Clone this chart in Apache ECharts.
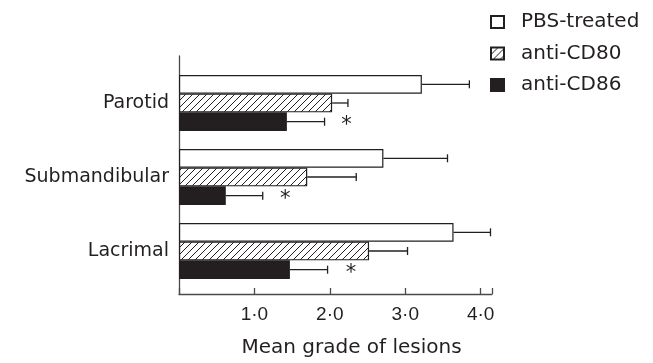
<!DOCTYPE html>
<html>
<head>
<meta charset="utf-8">
<script src="https://cdn.jsdelivr.net/npm/echarts@6/dist/echarts.min.js"></script>
<style>
  html, body { margin: 0; padding: 0; background: #fff; }
  #chart { width: 653px; height: 363px; }
</style>
</head>
<body>
<div id="chart"></div>
<script>
// data
const categories = ['Parotid', 'Submandibular', 'Lacrimal'];
const seriesNames = ['PBS-treated', 'anti-CD80', 'anti-CD86'];
const pbsMean = [3.22, 2.71, 3.64];
const pbsErr = [3.85, 3.56, 4.13];
const cd80Mean = [2.03, 1.70, 2.52];
const cd80Err = [2.24, 2.35, 3.03];
const cd86Mean = [1.43, 0.62, 1.47];
const cd86Err = [1.93, 1.11, 1.97];
const starPos = [2.22, 1.41, 2.28];   // asterisks beside anti-CD86 bars
const tickLabels = { 1: '1·0', 2: '2·0', 3: '3·0', 4: '4·0' };

const INK = '#231f20';
const AXIS = '#4a4a4a';
const BAR_W = 18.7;
const FONT = '"DejaVu Sans", sans-serif';
const TICK_FONT = '"Liberation Sans", Arial, sans-serif';

// diagonal hatch for anti-CD80
const hatch = (() => {
  const c = document.createElement('canvas');
  const s = 7;
  c.width = s; c.height = s;
  const ctx = c.getContext('2d');
  ctx.fillStyle = '#fff';
  ctx.fillRect(0, 0, s, s);
  ctx.strokeStyle = INK;
  ctx.lineWidth = 1;
  ctx.beginPath();
  ctx.moveTo(-1, s + 1); ctx.lineTo(s + 1, -1);
  ctx.moveTo(-1, 1); ctx.lineTo(1, -1);
  ctx.moveTo(s - 1, s + 1); ctx.lineTo(s + 1, s - 1);
  ctx.stroke();
  return c;
})();

const means = [pbsMean, cd80Mean, cd86Mean];
const errs = [pbsErr, cd80Err, cd86Err];
const fills = [
  '#fff',
  { image: hatch, repeat: 'repeat' },
  INK
];

const errData = [];
errs.forEach((arr, g) => arr.forEach((e, i) => errData.push([i, g, means[g][i], e])));

const chart = echarts.init(document.getElementById('chart'), null, { renderer: 'canvas' });

const option = {
  animation: false,
  textStyle: { fontFamily: FONT, color: INK },
  legend: {
    orient: 'vertical',
    left: 490,
    top: 12,
    padding: 0,
    itemWidth: 13,
    itemHeight: 12,
    itemGap: 11.5,
    icon: 'rect',
    textStyle: { fontSize: 20, color: INK, fontFamily: FONT, padding: [0, 0, 0, 12] },
    data: seriesNames
  },
  grid: [
    { left: 179, right: 161, top: 56, bottom: 65 },
    { left: 179, right: 161, top: 66, bottom: 75 }
  ],
  xAxis: [
    {
      gridIndex: 0,
      type: 'value',
      min: 0,
      max: 4.15,
      interval: 1,
      axisLine: { show: true, lineStyle: { color: AXIS, width: 1.3 } },
      axisTick: { show: true, inside: true, length: 6, lineStyle: { color: AXIS, width: 1.3 } },
      splitLine: { show: false },
      axisLabel: {
        fontSize: 19, color: INK, fontFamily: TICK_FONT, margin: 11,
        formatter: v => tickLabels[v] || ''
      },
      name: 'Mean grade of lesions',
      nameLocation: 'middle',
      nameGap: 44,
      nameTextStyle: { fontSize: 20, color: INK, fontFamily: FONT, padding: [0, 0, 0, 32] }
    },
    {
      gridIndex: 1,
      type: 'value',
      min: 0,
      max: 4.15,
      show: false
    }
  ],
  yAxis: [
    {
      gridIndex: 0,
      type: 'value',
      min: 0,
      max: 1,
      axisLine: { show: true, lineStyle: { color: AXIS, width: 1.3 } },
      axisTick: { show: false },
      axisLabel: { show: false },
      splitLine: { show: false }
    },
    {
      gridIndex: 1,
      type: 'category',
      inverse: true,
      data: categories,
      axisLine: { show: false },
      axisTick: { show: false },
      axisLabel: { fontSize: 19, color: INK, fontFamily: FONT, margin: 10 }
    }
  ],
  series: [
    ...seriesNames.map((name, g) => ({
      name,
      type: 'bar',
      xAxisIndex: 1,
      yAxisIndex: 1,
      barWidth: BAR_W,
      barGap: '0%',
      itemStyle: { color: fills[g], borderColor: INK, borderWidth: 1.2 },
      data: means[g]
    })),
    {
      type: 'custom',
      xAxisIndex: 1,
      yAxisIndex: 1,
      silent: true,
      data: errData,
      renderItem: (params, api) => {
        const cat = api.value(0);
        const g = api.value(1);
        const a = api.coord([api.value(2), cat]);
        const b = api.coord([api.value(3), cat]);
        const y = a[1] + (g - 1) * BAR_W;
        const style = { stroke: INK, lineWidth: 1.3 };
        return {
          type: 'group',
          children: [
            { type: 'line', shape: { x1: a[0], y1: y, x2: b[0], y2: y }, style },
            { type: 'line', shape: { x1: b[0], y1: y - 4, x2: b[0], y2: y + 4 }, style }
          ]
        };
      }
    },
    {
      type: 'custom',
      xAxisIndex: 1,
      yAxisIndex: 1,
      silent: true,
      data: starPos.map((x, i) => [x, i]),
      renderItem: (params, api) => {
        const p = api.coord([api.value(0), api.value(1)]);
        return {
          type: 'text',
          x: p[0],
          y: p[1] + BAR_W + 4,
          style: {
            text: '*',
            fontSize: 21,
            fontFamily: FONT,
            fill: INK,
            align: 'center',
            verticalAlign: 'middle'
          }
        };
      },
      encode: { x: 0, y: 1 }
    }
  ]
};

chart.setOption(option);
</script>
</body>
</html>
